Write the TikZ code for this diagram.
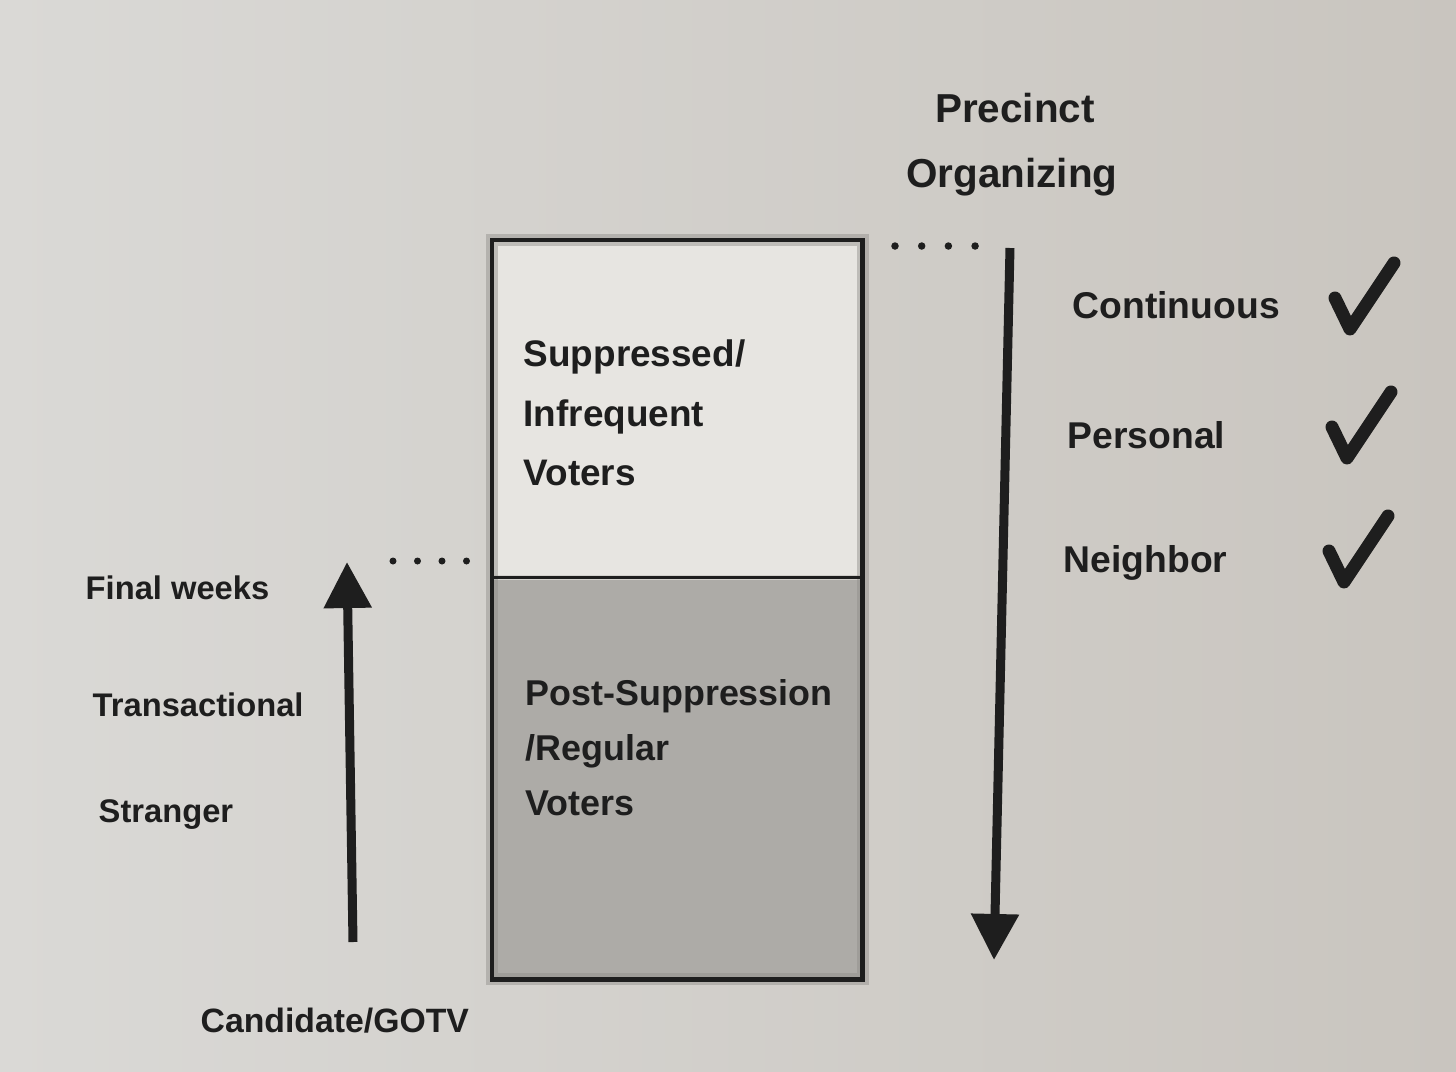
\documentclass[tikz,border=0pt]{standalone}
\usepackage{fontspec}
\setmainfont{Liberation Sans}
\usepackage{tikz}
\usetikzlibrary{calc,arrows.meta,positioning}
\definecolor{ink}{HTML}{1E1E1E}
\definecolor{paperL}{HTML}{DAD9D6}
\definecolor{paperM}{HTML}{E9E7E3}
\definecolor{paperR}{HTML}{C9C5BF}
\definecolor{upfill}{HTML}{E7E5E1}
\definecolor{lowfill}{HTML}{ADABA7}
\definecolor{halo}{HTML}{8E8C88}
\tikzset{
  lbl/.style={font=\fontsize{9.3}{11}\selectfont\bfseries,text=ink,anchor=west,inner sep=0pt},
  rlbl/.style={font=\fontsize{10.6}{13}\selectfont\bfseries,text=ink,anchor=west,inner sep=0pt},
  btxt/.style={font=\fontsize{10.5}{17}\selectfont\bfseries,text=ink,anchor=west,align=left,inner sep=0pt},
  boxpart/.style={line width=0.045cm,minimum width=3.66cm,inner sep=0pt},
  arr/.style={-{Triangle[length=0.46cm,width=0.46cm]},line width=0.09cm,draw=ink},
  chk/.style={line width=0.13cm,draw=ink,line cap=round,line join=round},
  dotmark/.style={circle,fill=ink,inner sep=0pt,minimum size=0.075cm}
}
\newcommand{\chkmark}[2]{%
  \draw[chk] (#1,#2) ++(-15,-31) -- ++(15,31) -- ++(44,-66);}
\begin{document}
\begin{tikzpicture}[x=0.01cm,y=-0.01cm]
\useasboundingbox (0,0) rectangle (1456,1072);
\shade[left color=paperL,middle color=paperM,right color=paperR] (0,0) rectangle (1456,1072);
% box
\node[boxpart,fill=upfill,minimum height=3.33cm,anchor=north west] (upbox) at (492,240) {};
\node[boxpart,fill=lowfill,minimum height=3.97cm,anchor=north] (lowbox) at (upbox.south) {};
\draw[halo,line width=0.12cm,opacity=0.45] (upbox.north west) rectangle (lowbox.south east);
\draw[ink,line width=0.045cm] (upbox.north west) rectangle (lowbox.south east);
\draw[ink,line width=0.035cm] (upbox.south west) -- (upbox.south east);
\node[btxt] (suptxt) at (523,413) {Suppressed/\\Infrequent\\Voters};
\node[btxt,font=\fontsize{10.2}{15.6}\selectfont\bfseries] (regtxt) at (525,748) {Post-Suppression\\/Regular\\Voters};
% right side
\node[rlbl,font=\fontsize{11.5}{13}\selectfont\bfseries,anchor=center] (prec) at (1015,108) {Precinct};
\node[rlbl,font=\fontsize{11.5}{13}\selectfont\bfseries,anchor=center] (org) at (1012,177) {Organizing};
\node[rlbl] (cont) at (1072,305) {Continuous};
\node[rlbl] (pers) at (1067,435) {Personal};
\node[rlbl] (neigh) at (1063,563) {Neighbor};
\coordinate (orgtop) at (1010,248);
\coordinate (orgbot) at (994,960);
\draw[arr] (orgtop) -- (orgbot);
\foreach \i in {0,...,3}{\node[dotmark] (rdot\i) at (895+26.7*\i,246) {};}
\chkmark{1350}{329}
\chkmark{1347}{458}
\chkmark{1344}{582}
% left side
\node[lbl] (fin) at (85,588) {Final weeks};
\node[lbl] (trans) at (92,705) {Transactional};
\node[lbl] (strg) at (98,815) {Stranger};
\node[lbl,font=\fontsize{9.6}{11}\selectfont\bfseries] (gotv) at (200,1021) {Candidate/GOTV};
\coordinate (gotvbot) at (353,942);
\coordinate (gotvtop) at (347,562);
\draw[arr] (gotvbot) -- (gotvtop);
\foreach \i in {0,...,3}{\node[dotmark,minimum size=0.07cm] (ldot\i) at (393+24.5*\i,561) {};}
\end{tikzpicture}
\end{document}
